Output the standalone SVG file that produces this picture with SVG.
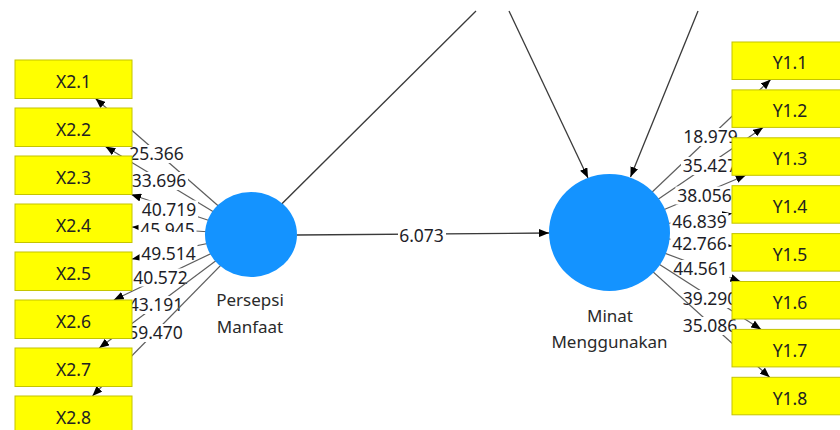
<svg xmlns="http://www.w3.org/2000/svg" width="840" height="430" viewBox="0 0 840 430">
  <defs>
    <marker id="arr" viewBox="0 0 10 8" refX="10" refY="4" markerWidth="10" markerHeight="8" markerUnits="userSpaceOnUse" orient="auto">
      <path d="M0,0 L10,4 L0,8 z" fill="#000"/>
    </marker>
    <style>
      .path { stroke: #3a3a3a; stroke-width: 1.3; fill: none; }
      .ind { stroke: #5e5e5e; stroke-width: 1.2; fill: none; marker-end: url(#arr); }
      .bg { fill: #fff; }
      .num { font-family: "Noto Sans", "Open Sans", sans-serif; font-size: 17.5px; fill: #1e1e28; text-anchor: middle; }
      .box rect { fill: #ffff00; stroke: #c4c400; stroke-width: 1; }
      .box text { font-family: "Noto Sans", "Open Sans", sans-serif; font-size: 17.5px; fill: #222; text-anchor: middle; }
      .lv ellipse { fill: #1493ff; }
      .lv text { font-family: "Noto Sans", "Open Sans", sans-serif; font-size: 17px; fill: #2a2a2a; text-anchor: middle; }
    </style>
  </defs>

  <g id="connectors">
    <!-- structural paths -->
    <line class="path" x1="251" y1="234.5" x2="476" y2="11"/>
    <line class="path" x1="509" y1="11" x2="588" y2="178" marker-end="url(#arr)"/>
    <line class="path" x1="698" y1="11" x2="630.5" y2="177" marker-end="url(#arr)"/>
    <line class="path" x1="297" y1="235" x2="549" y2="233" marker-end="url(#arr)"/>
    <rect class="bg" x="398" y="226" width="48" height="19"/>
    <text class="num" x="421.5" y="241.5">6.073</text>

    <!-- outer loadings: Persepsi Manfaat -->
    <line class="ind" x1="251" y1="234.5" x2="95.5" y2="98.5"/>
    <rect class="bg" x="128" y="145" width="58" height="18"/>
    <text class="num" x="156.5" y="160">25.366</text>
    <line class="ind" x1="251" y1="234.5" x2="105.4" y2="146.5"/>
    <rect class="bg" x="130" y="172" width="58" height="18"/>
    <text class="num" x="159" y="187">33.696</text>
    <line class="ind" x1="251" y1="234.5" x2="131.2" y2="194.5"/>
    <rect class="bg" x="140" y="200.5" width="58" height="18"/>
    <text class="num" x="169" y="215.5">40.719</text>
    <line class="ind" x1="251" y1="234.5" x2="132" y2="227"/>
    <rect class="bg" x="138.5" y="221" width="58" height="18"/>
    <text class="num" x="167.5" y="236">45.945</text>
    <line class="ind" x1="251" y1="234.5" x2="132" y2="259.1"/>
    <rect class="bg" x="139.5" y="232" width="58" height="30.5"/>
    <text class="num" x="168.5" y="259.5">49.514</text>
    <line class="ind" x1="251" y1="234.5" x2="113.8" y2="300"/>
    <rect class="bg" x="131.5" y="268.5" width="58" height="18"/>
    <text class="num" x="160.5" y="283.5">40.572</text>
    <line class="ind" x1="251" y1="234.5" x2="99.2" y2="348"/>
    <rect class="bg" x="127" y="296" width="58" height="18"/>
    <text class="num" x="156" y="311">43.191</text>
    <line class="ind" x1="251" y1="234.5" x2="92.4" y2="396"/>
    <rect class="bg" x="126.5" y="324" width="58" height="18"/>
    <text class="num" x="155.5" y="339">59.470</text>

    <!-- outer loadings: Minat Menggunakan -->
    <line class="ind" x1="609.5" y1="232.5" x2="770.7" y2="79.5"/>
    <rect class="bg" x="681.5" y="128" width="58" height="18"/>
    <text class="num" x="710.5" y="143">18.979</text>
    <line class="ind" x1="609.5" y1="232.5" x2="763.1" y2="127.4"/>
    <rect class="bg" x="681" y="157" width="58" height="18"/>
    <text class="num" x="710" y="172">35.427</text>
    <line class="ind" x1="609.5" y1="232.5" x2="745.8" y2="175.3"/>
    <rect class="bg" x="675.5" y="186.5" width="58" height="18"/>
    <text class="num" x="704.5" y="201.5">38.056</text>
    <line class="ind" x1="609.5" y1="232.5" x2="732" y2="213.5"/>
    <rect class="bg" x="670.5" y="213" width="58" height="18"/>
    <text class="num" x="699.5" y="228">46.839</text>
    <line class="ind" x1="609.5" y1="232.5" x2="732" y2="245.9"/>
    <rect class="bg" x="670.5" y="235" width="58" height="18"/>
    <text class="num" x="699.5" y="250">42.766</text>
    <line class="ind" x1="609.5" y1="232.5" x2="740.4" y2="281.5"/>
    <rect class="bg" x="671.5" y="260" width="58" height="18"/>
    <text class="num" x="700.5" y="275">44.561</text>
    <line class="ind" x1="609.5" y1="232.5" x2="761.2" y2="329.4"/>
    <rect class="bg" x="681" y="290" width="58" height="18"/>
    <text class="num" x="710" y="305">39.290</text>
    <line class="ind" x1="609.5" y1="232.5" x2="769.7" y2="377.3"/>
    <rect class="bg" x="681" y="317" width="58" height="18"/>
    <text class="num" x="710" y="332">35.086</text>
  </g>

  <!-- indicators of Persepsi Manfaat -->
  <g id="X2.1" class="box"><rect x="15" y="60" width="117" height="38.5"/><text x="73.5" y="87.8">X2.1</text></g>
  <g id="X2.2" class="box"><rect x="15" y="108" width="117" height="38.5"/><text x="73.5" y="135.8">X2.2</text></g>
  <g id="X2.3" class="box"><rect x="15" y="156" width="117" height="38.5"/><text x="73.5" y="183.8">X2.3</text></g>
  <g id="X2.4" class="box"><rect x="15" y="204" width="117" height="38.5"/><text x="73.5" y="231.8">X2.4</text></g>
  <g id="X2.5" class="box"><rect x="15" y="252" width="117" height="38.5"/><text x="73.5" y="279.8">X2.5</text></g>
  <g id="X2.6" class="box"><rect x="15" y="300" width="117" height="38.5"/><text x="73.5" y="327.8">X2.6</text></g>
  <g id="X2.7" class="box"><rect x="15" y="348" width="117" height="38.5"/><text x="73.5" y="375.8">X2.7</text></g>
  <g id="X2.8" class="box"><rect x="15" y="396" width="117" height="38.5"/><text x="73.5" y="423.8">X2.8</text></g>

  <!-- indicators of Minat Menggunakan -->
  <g id="Y1.1" class="box"><rect x="732" y="42" width="117" height="37.5"/><text x="790" y="69.3">Y1.1</text></g>
  <g id="Y1.2" class="box"><rect x="732" y="89.9" width="117" height="37.5"/><text x="790" y="117.2">Y1.2</text></g>
  <g id="Y1.3" class="box"><rect x="732" y="137.8" width="117" height="37.5"/><text x="790" y="165.1">Y1.3</text></g>
  <g id="Y1.4" class="box"><rect x="732" y="185.7" width="117" height="37.5"/><text x="790" y="213">Y1.4</text></g>
  <g id="Y1.5" class="box"><rect x="732" y="233.6" width="117" height="37.5"/><text x="790" y="260.9">Y1.5</text></g>
  <g id="Y1.6" class="box"><rect x="732" y="281.5" width="117" height="37.5"/><text x="790" y="308.8">Y1.6</text></g>
  <g id="Y1.7" class="box"><rect x="732" y="329.4" width="117" height="37.5"/><text x="790" y="356.7">Y1.7</text></g>
  <g id="Y1.8" class="box"><rect x="732" y="377.3" width="117" height="37.5"/><text x="790" y="404.6">Y1.8</text></g>

  <!-- latent variables -->
  <g id="persepsi-manfaat" class="lv">
    <ellipse cx="251" cy="234.5" rx="46" ry="42.5"/>
    <text x="250" y="306">Persepsi</text>
    <text x="250" y="333">Manfaat</text>
  </g>
  <g id="minat-menggunakan" class="lv">
    <ellipse cx="609.5" cy="232.5" rx="60.5" ry="58.5"/>
    <text x="610" y="322">Minat</text>
    <text x="609.5" y="348">Menggunakan</text>
  </g>
</svg>
